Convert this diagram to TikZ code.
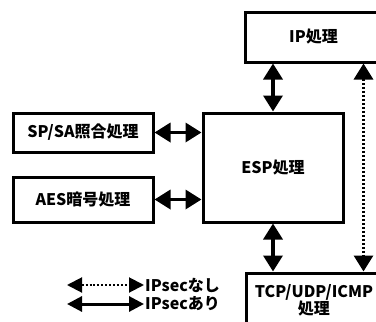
\documentclass[tikz,border=0pt]{standalone}
\usepackage{fontspec}
\setmainfont{Noto Sans CJK JP}
\usetikzlibrary{arrows.meta}
\tikzset{
  box/.style={draw, line width=3pt, rectangle, inner sep=0pt, font=\fontsize{16}{19}\selectfont\bfseries, align=center},
  biarrow/.style={line width=3.5pt, {Triangle[length=16pt,width=19pt]}-{Triangle[length=16pt,width=19pt]}},
  dotarrow/.style={line width=3pt, dash pattern=on 2.5pt off 1.5pt, {Triangle[length=16pt,width=19pt]}-{Triangle[length=16pt,width=19pt]}},
  legsolid/.style={line width=3pt, {Triangle[length=15pt,width=15pt]}-{Triangle[length=15pt,width=15pt]}},
  legdot/.style={line width=2pt, dash pattern=on 2pt off 2pt, {Triangle[length=15pt,width=15pt]}-{Triangle[length=15pt,width=15pt]}},
  lbl/.style={anchor=west, inner sep=1pt, font=\fontsize{16}{19}\selectfont\bfseries}
}
\begin{document}
\begin{tikzpicture}[x=1pt,y=-1pt]
\path[use as bounding box] (0,0) rectangle (376,322);
\clip (0,0) rectangle (376,322);
\node[box, minimum width=137, minimum height=50] (ip) at (313.5,37) {IP処理};
\node[box, minimum width=140, minimum height=109] (esp) at (273,167.5) {ESP処理};
\node[box, minimum width=140, minimum height=39] (spsa) at (83,132.5) {SP/SA照合処理};
\node[box, minimum width=140, minimum height=45] (aes) at (83,199.5) {AES暗号処理};
\node[box, minimum width=136, minimum height=54] (tcp) at (314,300) {TCP/UDP/ICMP\\[-2pt]処理};
\draw[biarrow] (esp.north) -- (esp.north |- ip.south);
\draw[biarrow] (esp.south) -- (esp.south |- tcp.north);
\draw[biarrow] (spsa.east) -- (spsa.east -| esp.west);
\draw[biarrow] (aes.east) -- (aes.east -| esp.west);
\draw[dotarrow] ([xshift=-20pt]ip.south east) -- ([xshift=-20pt]tcp.north east);
\coordinate (l1) at (67,285);
\coordinate (l2) at (67,304);
\node[lbl] (nashi) at (144,285) {IPsecなし};
\node[lbl] (ari) at (144,304) {IPsecあり};
\draw[legdot] (l1) -- (nashi.west);
\draw[legsolid] (l2) -- (ari.west);
\end{tikzpicture}
\end{document}
